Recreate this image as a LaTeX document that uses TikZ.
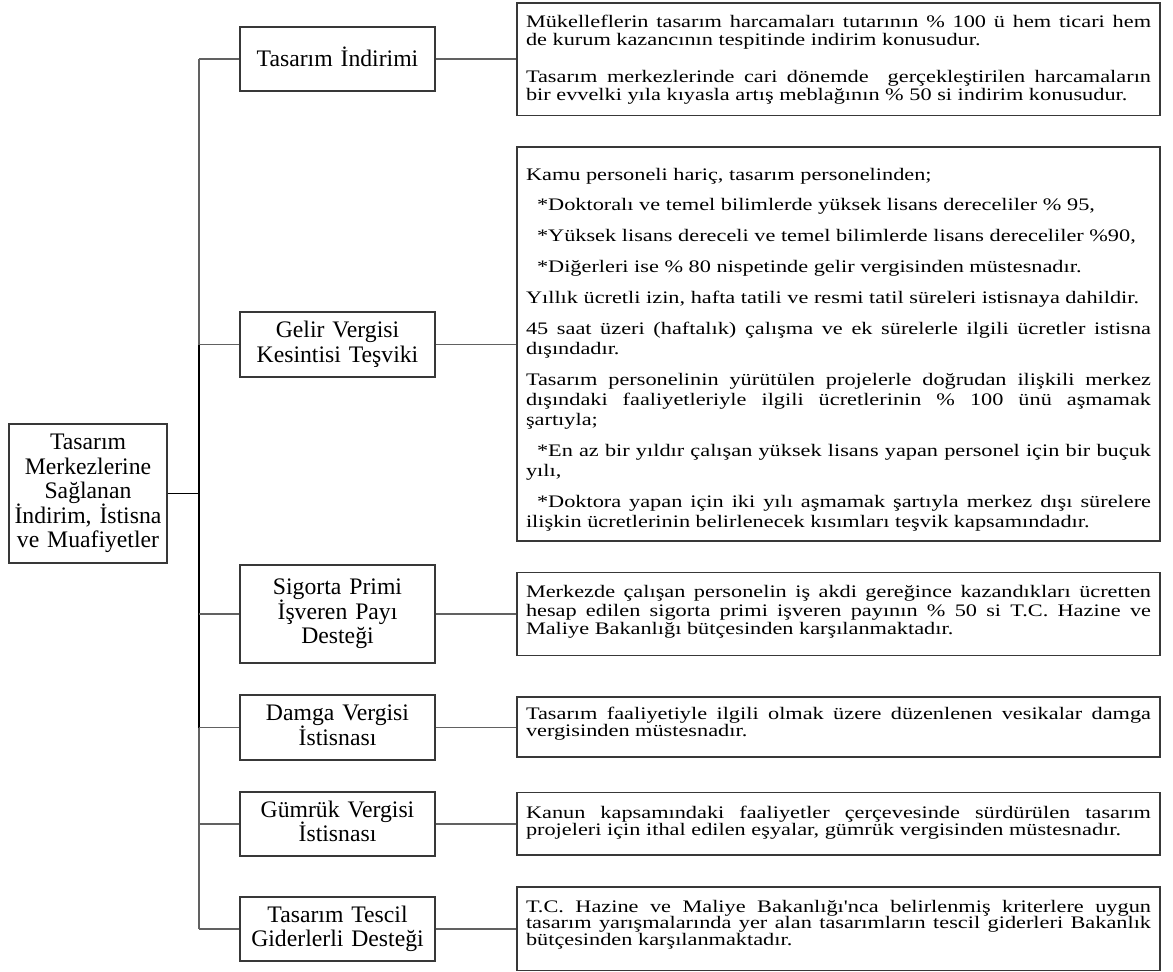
\documentclass[tikz,border=0pt]{standalone}
\usepackage{fontspec}
\setmainfont{Liberation Serif}[Ligatures=TeXOff]
\newfontfamily\rtfont{Liberation Serif}[FakeStretch=1.267,Ligatures=TeXOff]
\newcommand{\topstrut}[1]{\rule{0pt}{#1pt}}
\newcommand{\botstrut}[1]{\rule[-#1pt]{0pt}{#1pt}}
\newcommand{\dstrut}{\rule[-5.2pt]{0pt}{5.2pt}}
\begin{document}
\begin{tikzpicture}[x=1pt,y=-1pt,
  boxline/.style={draw=black!78, line width=1.1pt, fill=white},
  leftbox/.style={boxline, text width=188pt, align=center, inner xsep=3pt, inner ysep=0pt,
    minimum width=195pt, font=\fontsize{23.7}{24.5}\selectfont,
    execute at begin node={\lineskiplimit=-50pt }},
  rootbox/.style={leftbox, text width=156pt, minimum width=158pt, inner xsep=1pt},
  rightbox/.style n args={2}{boxline, text width=625pt, align=justify, inner xsep=9pt, inner ysep=0pt,
    minimum width=643pt, font=\rtfont\fontsize{17.6}{#1}\selectfont,
    execute at begin node={\setlength{\parskip}{#2}\setlength{\parindent}{0pt}\lineskiplimit=-50pt \tolerance=10000 \hyphenpenalty=10000 \exhyphenpenalty=10000 }},
  conn/.style={draw=black!62, line width=1.1pt},
  connbold/.style={draw=black, line width=1.6pt}
]
\useasboundingbox (0,0) rectangle (1173,972);

% root
\node[rootbox, minimum height=139pt] (root) at (88,493.5)
  {Tasarım\\Merkezlerine\\Sağlanan\\İndirim, İstisna\\ve Muafiyetler};

% trunk junctions
\coordinate (j1) at (199,59);
\coordinate (j2) at (199,344.5);
\coordinate (j3) at (199,614);
\coordinate (j4) at (199,727.5);
\coordinate (j5) at (199,824);
\coordinate (j6) at (199,929);
\coordinate (jr) at (199,493.5);

% category boxes
\node[leftbox, minimum height=64pt] (b1) at (337.5,59) {Tasarım İndirimi\dstrut};
\node[leftbox, minimum height=65pt] (b2) at (337.5,344.5) {Gelir Vergisi\\Kesintisi Teşviki\dstrut};
\node[leftbox, minimum height=98pt] (b3) at (337.5,614) {Sigorta Primi\\İşveren Payı\\Desteği\dstrut};
\node[leftbox, minimum height=65pt] (b4) at (337.5,727.5) {Damga Vergisi\\İstisnası\dstrut};
\node[leftbox, minimum height=64pt] (b5) at (337.5,824) {Gümrük Vergisi\\İstisnası\dstrut};
\node[leftbox, minimum height=64pt] (b6) at (337.5,929) {Tasarım Tescil\\Giderlerli Desteği\dstrut};

% description boxes (top strut = first baseline offset, bottom strut = space under last baseline)
\node[rightbox={18pt}{19pt}, minimum height=112.7pt] (r1) at (838.5,59.35) {%
\topstrut{24}Mükelleflerin tasarım harcamaları tutarının \% 100 ü hem ticari hem\linebreak de kurum kazancının tespitinde indirim konusudur.\par
Tasarım merkezlerinde cari dönemde\ \ gerçekleştirilen harcamaların\linebreak bir evvelki yıla kıyasla artış meblağının \% 50 si indirim konusudur.\botstrut{15.7}};

\node[rightbox={20.3pt}{10.5pt}, minimum height=394pt] (r2) at (838.5,344) {%
\topstrut{33}Kamu personeli hariç, tasarım personelinden;\par
\hspace*{11pt}*Doktoralı ve temel bilimlerde yüksek lisans dereceliler \% 95,\par
\hspace*{11pt}*Yüksek lisans dereceli ve temel bilimlerde lisans dereceliler \%90,\par
\hspace*{11pt}*Diğerleri ise \% 80 nispetinde gelir vergisinden müstesnadır.\par
Yıllık ücretli izin, hafta tatili ve resmi tatil süreleri istisnaya dahildir.\par
45 saat üzeri (haftalık) çalışma ve ek sürelerle ilgili ücretler istisna\linebreak dışındadır.\par
Tasarım personelinin yürütülen projelerle doğrudan ilişkili merkez\linebreak dışındaki faaliyetleriyle ilgili ücretlerinin \% 100 ünü aşmamak\linebreak şartıyla;\par
\hspace*{11pt}*En az bir yıldır çalışan yüksek lisans yapan personel için bir buçuk\linebreak yılı,\par
\hspace*{11pt}*Doktora yapan için iki yılı aşmamak şartıyla merkez dışı sürelere\linebreak ilişkin ücretlerinin belirlenecek kısımları teşvik kapsamındadır.\botstrut{13.1}};

\node[rightbox={18.3pt}{0pt}, minimum height=83pt] (r3) at (838.5,614.2) {%
\topstrut{25}Merkezde çalışan personelin iş akdi gereğince kazandıkları ücretten\linebreak hesap edilen sigorta primi işveren payının \% 50 si T.C. Hazine ve\linebreak Maliye Bakanlığı bütçesinden karşılanmaktadır.\botstrut{21.4}};

\node[rightbox={17.4pt}{0pt}, minimum height=60pt] (r4) at (838.5,727) {%
\topstrut{22.3}Tasarım faaliyetiyle ilgili olmak üzere düzenlenen vesikalar damga\linebreak vergisinden müstesnadır.\botstrut{20.3}};

\node[rightbox={16.7pt}{0pt}, minimum height=62.3pt] (r5) at (838.5,823.85) {%
\topstrut{26}Kanun kapsamındaki faaliyetler çerçevesinde sürdürülen tasarım\linebreak projeleri için ithal edilen eşyalar, gümrük vergisinden müstesnadır.\botstrut{19.6}};

\node[rightbox={16.7pt}{0pt}, minimum height=83.5pt] (r6) at (838.5,928.75) {%
\topstrut{25}T.C. Hazine ve Maliye Bakanlığı'nca belirlenmiş kriterlere uygun\linebreak tasarım yarışmalarında yer alan tasarımların tescil giderleri Bakanlık\linebreak bütçesinden karşılanmaktadır.\botstrut{25.1}};

% connectors
\draw[conn] (j1) -- (j6);
\draw[connbold] (j2) -- (j4);
\draw[connbold] (root.east) -- (jr);
\foreach \i in {1,...,6}{
  \draw[conn] (j\i) -- (b\i.west);
  \draw[conn] (b\i.east) -- (b\i.east -| r\i.west);
}
\end{tikzpicture}
\end{document}
